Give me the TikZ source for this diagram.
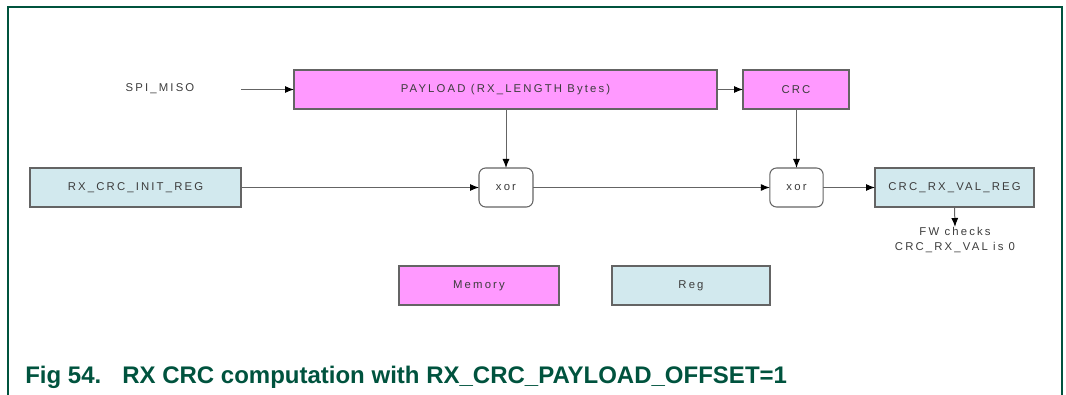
\documentclass[tikz,border=0pt]{standalone}
\usepackage{fontspec}
\setmainfont{Liberation Sans}
\newfontfamily\diagfont[LetterSpace=19]{Liberation Sans}
\usetikzlibrary{arrows.meta}
\definecolor{framegreen}{RGB}{0,83,62}
\definecolor{memfill}{RGB}{255,153,255}
\definecolor{regfill}{RGB}{210,233,238}
\definecolor{txtgray}{RGB}{60,60,60}
\definecolor{edgegray}{RGB}{100,100,100}
\begin{document}
\begin{tikzpicture}[x=0.75pt,y=-0.75pt,
  lbl/.style={font=\diagfont\fontsize{8.5}{11}\selectfont, text=txtgray},
  basebox/.style={lbl, draw=edgegray, line width=0.8pt, inner sep=0pt, outer sep=0pt, minimum height=29.25pt},
  membox/.style={basebox, fill=memfill},
  regbox/.style={basebox, fill=regfill},
  xorbox/.style={basebox, fill=white, rounded corners=5pt},
  conn/.style={draw=edgegray, line width=0.75pt, -{Latex[length=6.75pt,width=5.25pt,black]}},
  caption/.style={font=\bfseries\fontsize{18}{20}\selectfont, text=framegreen, inner sep=0pt, anchor=base west}
]
\useasboundingbox (0,0) rectangle (1066,395);
% frame
\draw[framegreen, line width=1.1pt] (8,395) -- (8,7) -- (1062,7) -- (1062,395);

% nodes
\node[lbl] (miso) at (160,89) {SPI\_MISO};
\coordinate (misoout) at (241,89.5);
\node[membox, minimum width=317.25pt] (payload) at (505.5,89.5) {PAYLOAD (RX\_LENGTH Bytes)};
\node[membox, minimum width=79.5pt] (crc) at (796,89.5) {CRC};
\node[regbox, minimum width=158.25pt] (init) at (135.5,187.5) {RX\_CRC\_INIT\_REG};
\node[xorbox, minimum width=40.5pt] (xorA) at (506,187.5) {xor};
\node[xorbox, minimum width=40pt] (xorB) at (796.5,187.5) {xor};
\node[regbox, minimum width=119.25pt] (val) at (954.5,187.5) {CRC\_RX\_VAL\_REG};
\node[lbl, align=center, inner sep=0pt, anchor=north] (fw) at (955,227) {FW checks\\CRC\_RX\_VAL is 0};
\node[membox, minimum width=120pt] (memory) at (479,285.5) {Memory};
\node[regbox, minimum width=118.5pt] (reg) at (691,285.5) {Reg};

% connectors
\draw[conn] (misoout) -- (payload.west);
\draw[conn] (payload.east) -- (crc.west);
\draw[conn] (payload.south -| xorA) -- (xorA.north);
\draw[conn] (crc.south -| xorB) -- (xorB.north);
\draw[conn] (init.east) -- (xorA.west);
\draw[conn] (xorA.east) -- (xorB.west);
\draw[conn] (xorB.east) -- (val.west);
\draw[conn] (val.south) -- (fw.north);

% caption
\node[caption] (capnum) at (25,383) {Fig 54.};
\node[caption] (captext) at (122,383) {RX CRC computation with RX\_CRC\_PAYLOAD\_OFFSET=1};
\end{tikzpicture}
\end{document}
